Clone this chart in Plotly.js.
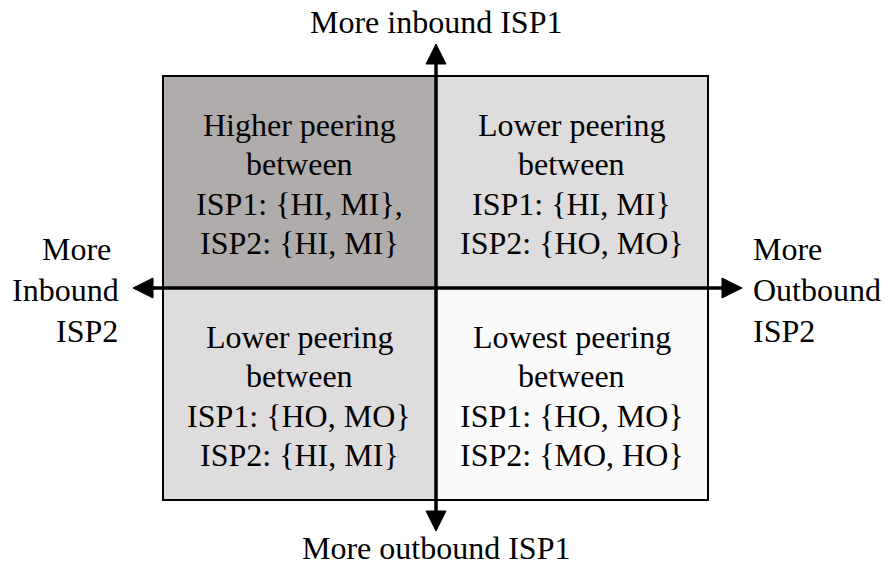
<!DOCTYPE html>
<html>
<head>
<meta charset="utf-8">
<script src="https://cdn.plot.ly/plotly-3.0.1.min.js"></script>
<style>html,body{margin:0;padding:0;background:#fff;}#chart{width:888px;height:568px;}</style>
</head>
<body>
<div id="chart"></div>
<script>
// ---- data ----
const xCategories = ['Inbound ISP2', 'Outbound ISP2'];
const yCategories = ['Outbound ISP1', 'Inbound ISP1'];
// peering level: 3 = higher, 2 = lower, 1 = lowest
const peeringLevel = [[2, 1], [3, 2]];
const cellLines = [
  [ ['Lower peering', 'between', 'ISP1: {HO, MO}', 'ISP2: {HI, MI}'],
    ['Lowest peering', 'between', 'ISP1: {HO, MO}', 'ISP2: {MO, HO}'] ],
  [ ['Higher peering', 'between', 'ISP1: {HI, MI},', 'ISP2: {HI, MI}'],
    ['Lower peering', 'between', 'ISP1: {HI, MI}', 'ISP2: {HO, MO}'] ]
];
const topLabel = 'More inbound ISP1';
const bottomLabel = 'More outbound ISP1';
const leftLabel = ['More', 'Inbound', 'ISP2'];
const rightLabel = ['More', 'Outbound', 'ISP2'];

// ---- layout helpers ----
const W = 888, H = 568;
const L = 163, R = 708, T = 76, B = 500;
const px = x => (x - L) / (R - L);
const py = y => (B - y) / (B - T);
const FONT = {family: "'Liberation Serif', 'Times New Roman', serif", size: 32, color: '#000'};

const annotations = [];
const lineH = 39.5;
for (let r = 0; r < 2; r++) {
  for (let c = 0; c < 2; c++) {
    const lines = cellLines[r][c];
    lines.forEach((t, i) => {
      annotations.push({
        x: xCategories[c], y: yCategories[r], xref: 'x', yref: 'y',
        text: t, showarrow: false, font: FONT,
        xanchor: 'center', yanchor: 'middle',
        yshift: -((i - (lines.length - 1) / 2) * lineH) - 2
      });
    });
  }
}
annotations.push({x: px(436), y: py(22), xref: 'paper', yref: 'paper', text: topLabel,
  showarrow: false, font: FONT, xanchor: 'center', yanchor: 'middle'});
annotations.push({x: px(436), y: py(548), xref: 'paper', yref: 'paper', text: bottomLabel,
  showarrow: false, font: FONT, xanchor: 'center', yanchor: 'middle'});
const leftX = [113, 121, 120];
const sideY = [249, 290, 331];
leftLabel.forEach((t, i) => annotations.push({x: px(leftX[i]), y: py(sideY[i]), xref: 'paper', yref: 'paper',
  text: t, showarrow: false, font: FONT, xanchor: 'right', yanchor: 'middle'}));
rightLabel.forEach((t, i) => annotations.push({x: px(751), y: py(sideY[i]), xref: 'paper', yref: 'paper',
  text: t, showarrow: false, font: FONT, xanchor: 'left', yanchor: 'middle'}));

const cx = 436, cy = 288, aw = 10, al = 20, lw = 3.5;
const shapes = [
  {type: 'rect', xref: 'paper', yref: 'paper', x0: 0, x1: 1, y0: 0, y1: 1, line: {color: '#000', width: 2}},
  // horizontal axis line
  {type: 'line', xref: 'paper', yref: 'paper', x0: px(133 + al - 2), x1: px(742 - al + 2), y0: py(cy), y1: py(cy), line: {color: '#000', width: lw}},
  // vertical axis line
  {type: 'line', xref: 'paper', yref: 'paper', x0: px(cx), x1: px(cx), y0: py(44 + al - 2), y1: py(531 - al + 2), line: {color: '#000', width: lw}},
];
function tri(pts) {
  return {type: 'path', xref: 'paper', yref: 'paper',
    path: 'M' + pts.map(p => px(p[0]) + ',' + py(p[1])).join(' L') + ' Z',
    fillcolor: '#000', line: {color: '#000', width: 1}};
}
shapes.push(tri([[133, cy], [133 + al, cy - aw], [133 + al, cy + aw]]));
shapes.push(tri([[742, cy], [742 - al, cy - aw], [742 - al, cy + aw]]));
shapes.push(tri([[cx, 44], [cx - aw, 44 + al], [cx + aw, 44 + al]]));
shapes.push(tri([[cx, 531], [cx - aw, 531 - al], [cx + aw, 531 - al]]));

const trace = {
  type: 'heatmap', x: xCategories, y: yCategories, z: peeringLevel,
  zmin: 1, zmax: 3, showscale: false, hoverinfo: 'skip', xgap: 0, ygap: 0,
  colorscale: [[0, '#fafafa'], [0.5, '#dedcdd'], [1, '#b0acab']]
};

const axis = {showgrid: false, zeroline: false, showticklabels: false, ticks: '', showline: false, fixedrange: true};
const layout = {
  width: W, height: H,
  margin: {l: L, r: W - R, t: T, b: H - B, pad: 0},
  paper_bgcolor: '#fff', plot_bgcolor: '#fff',
  xaxis: Object.assign({type: 'category', range: [-0.5, 1.5]}, axis),
  yaxis: Object.assign({type: 'category', range: [-0.5, 1.5]}, axis),
  annotations: annotations, shapes: shapes, showlegend: false
};
Plotly.newPlot('chart', [trace], layout, {staticPlot: true, displayModeBar: false});
</script>
</body>
</html>
